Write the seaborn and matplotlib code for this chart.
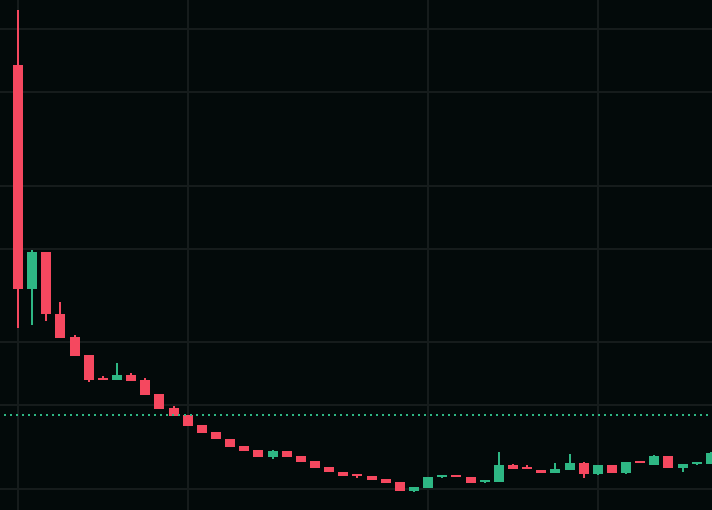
import matplotlib
matplotlib.use("Agg")
import matplotlib.pyplot as plt
import seaborn as sns
import numpy as np
import pandas as pd

# ---- data (price units) ----
opens = [4.45, 2.21, 2.58, 1.96, 1.73, 1.55, 1.32, 1.30, 1.35, 1.30,
         1.16, 1.02, 0.95, 0.85, 0.78, 0.71, 0.64, 0.60, 0.53, 0.59,
         0.54, 0.49, 0.43, 0.38, 0.36, 0.34, 0.31, 0.28, 0.19, 0.22,
         0.33, 0.35, 0.33, 0.28, 0.28, 0.45, 0.43, 0.40, 0.37, 0.40,
         0.47, 0.36, 0.45, 0.37, 0.49, 0.45, 0.54, 0.42, 0.46, 0.46]
closes = [2.21, 2.58, 1.96, 1.72, 1.54, 1.30, 1.30, 1.35, 1.29, 1.15,
          1.01, 0.94, 0.84, 0.77, 0.71, 0.63, 0.59, 0.53, 0.59, 0.53,
          0.48, 0.42, 0.38, 0.34, 0.34, 0.30, 0.27, 0.19, 0.23, 0.33,
          0.35, 0.33, 0.27, 0.30, 0.45, 0.41, 0.41, 0.37, 0.41, 0.47,
          0.36, 0.45, 0.37, 0.48, 0.47, 0.54, 0.42, 0.46, 0.48, 0.57]
highs = [5.00, 2.60, 2.58, 2.08, 1.75, 1.55, 1.34, 1.47, 1.37, 1.32,
         1.16, 1.04, 0.95, 0.85, 0.78, 0.71, 0.64, 0.60, 0.60, 0.59,
         0.54, 0.49, 0.43, 0.38, 0.36, 0.34, 0.31, 0.28, 0.23, 0.33,
         0.35, 0.35, 0.33, 0.30, 0.58, 0.46, 0.45, 0.40, 0.47, 0.56,
         0.48, 0.45, 0.45, 0.48, 0.49, 0.55, 0.54, 0.46, 0.48, 0.58]
lows = [1.82, 1.85, 1.89, 1.72, 1.54, 1.28, 1.30, 1.30, 1.29, 1.15,
        1.01, 0.94, 0.84, 0.77, 0.71, 0.63, 0.59, 0.53, 0.51, 0.53,
        0.48, 0.42, 0.38, 0.34, 0.32, 0.30, 0.27, 0.19, 0.18, 0.22,
        0.32, 0.33, 0.27, 0.27, 0.28, 0.41, 0.41, 0.37, 0.37, 0.40,
        0.32, 0.35, 0.37, 0.36, 0.47, 0.45, 0.42, 0.38, 0.45, 0.46]
price_gridlines = [4.81, 4.18, 3.24, 2.61, 1.68, 1.05, 0.21]
time_gridlines = [0, 12, 29, 41]
last_price = 0.945

df = pd.DataFrame({"open": opens, "close": closes, "high": highs, "low": lows})
df["idx"] = np.arange(len(df))
df["up"] = df["close"] >= df["open"]

UP = "#2eb784"
DOWN = "#f5485f"
BG = "#030a0a"
GRID = "#161c1c"

sns.set_theme(style="dark", rc={"axes.facecolor": BG, "figure.facecolor": BG})

fig = plt.figure(figsize=(7.1205, 5.1005), dpi=100)
ax = fig.add_axes([0, 0, 1, 1])
ax.set_facecolor(BG)

colors = [UP if u else DOWN for u in df["up"]]
body_bottom = np.minimum(df["open"], df["close"])
body_h = np.maximum(np.abs(df["close"] - df["open"]), 0.01)

ax.vlines(df["idx"], df["low"], df["high"], colors=colors, linewidth=1.44, zorder=2)
ax.bar(df["idx"], body_h, bottom=body_bottom, width=0.707, color=colors,
       linewidth=0, zorder=3)

ax.plot([-1.0, 49.08], [last_price, last_price], color=UP, linewidth=1.44,
        linestyle=(0, (1, 2)), dash_capstyle="butt", zorder=4)

ax.set_xlim(-1.273, 49.08)
ax.set_ylim(0, 5.10)
ax.set_xticks(time_gridlines)
ax.set_yticks(price_gridlines)
ax.grid(True, color=GRID, linewidth=1.5)
ax.set_axisbelow(True)
ax.tick_params(length=0, labelbottom=False, labelleft=False)
for s in ax.spines.values():
    s.set_visible(False)

fig.savefig("out.png", dpi=100, facecolor=BG)
